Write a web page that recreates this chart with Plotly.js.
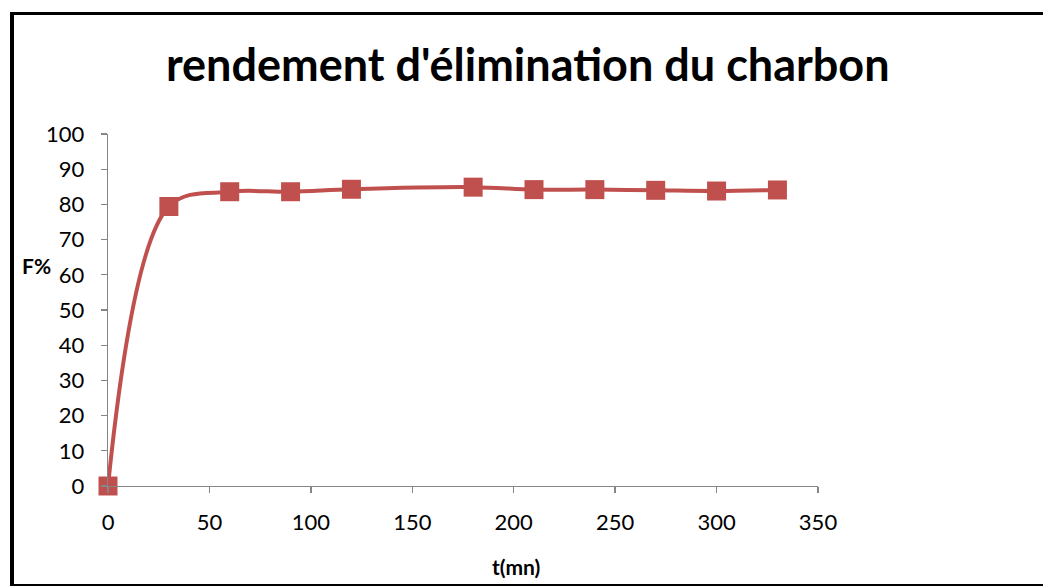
<!DOCTYPE html>
<html><head><meta charset="utf-8">
<script src="https://cdn.plot.ly/plotly-3.0.1.min.js"></script>
<style>
html,body{margin:0;padding:0;background:#fff;}
#frame{position:absolute;left:10px;top:12px;width:1040px;height:569px;border:3px solid #000;border-left-width:4px;box-sizing:content-box;}
#chart{position:absolute;left:0;top:0;width:1043px;height:586px;}
</style></head>
<body>
<div id="chart"></div>
<div id="frame" style="pointer-events:none"></div>
<script>
const tValues = [0, 30, 60, 90, 120, 180, 210, 240, 270, 300, 330];
const fValues = [0, 79.4, 83.6, 83.6, 84.3, 84.9, 84.2, 84.2, 84.0, 83.8, 84.1];
const chartTitle = "rendement d'élimination du charbon";
const xTitle = "t(mn)";
const yTitle = "F%";

const trace = {
  x: tValues, y: fValues, type: 'scatter', mode: 'lines+markers',
  line: {color: '#C0504D', width: 4, shape: 'spline', smoothing: 1},
  marker: {symbol: 'square', size: 19, color: '#C0504D', line: {color: '#C0504D', width: 0}},
  cliponaxis: false, hoverinfo: 'none'
};
const layout = {
  width: 1043, height: 586,
  margin: {l: 108, r: 225, t: 134, b: 100},
  paper_bgcolor: 'rgba(0,0,0,0)', plot_bgcolor: 'rgba(0,0,0,0)',
  showlegend: false,
  font: {family: 'Lato, "Open Sans", sans-serif', color: '#000'},
  title: {text: '<b>' + chartTitle + '</b>', font: {size: 45, family: 'Lato, sans-serif', color: '#000'},
    x: 0.506, xanchor: 'center', y: 0.888, yanchor: 'middle'},
  xaxis: {range: [0, 350], dtick: 50, tick0: 0, showgrid: false, zeroline: false,
    showline: true, linecolor: '#868686', linewidth: 1.3, ticks: 'outside', ticklen: 6,
    tickcolor: '#868686', tickwidth: 1.3, tickfont: {size: 22, family: 'Lato, sans-serif'},
    ticklabelstandoff: 10},
  yaxis: {range: [0, 100], dtick: 10, tick0: 0, showgrid: false, zeroline: false,
    showline: true, linecolor: '#868686', linewidth: 1.3, ticks: 'outside', ticklen: 6,
    tickcolor: '#868686', tickwidth: 1.3, tickfont: {size: 22, family: 'Lato, sans-serif'},
    ticklabelstandoff: 12},
  annotations: [
    {text: '<b>' + yTitle + '</b>', xref: 'paper', yref: 'paper', x: -0.101, y: 0.627,
      xanchor: 'center', yanchor: 'middle', showarrow: false, font: {size: 21, family: 'Lato, sans-serif', color: '#000'}},
    {text: '<b>' + xTitle + '</b>', xref: 'paper', yref: 'paper', x: 0.574, y: -0.229,
      xanchor: 'center', yanchor: 'middle', showarrow: false, font: {size: 21, family: 'Lato, sans-serif', color: '#000'}}
  ]
};
Plotly.newPlot('chart', [trace], layout, {displayModeBar: false, staticPlot: true});
</script>
</body></html>
